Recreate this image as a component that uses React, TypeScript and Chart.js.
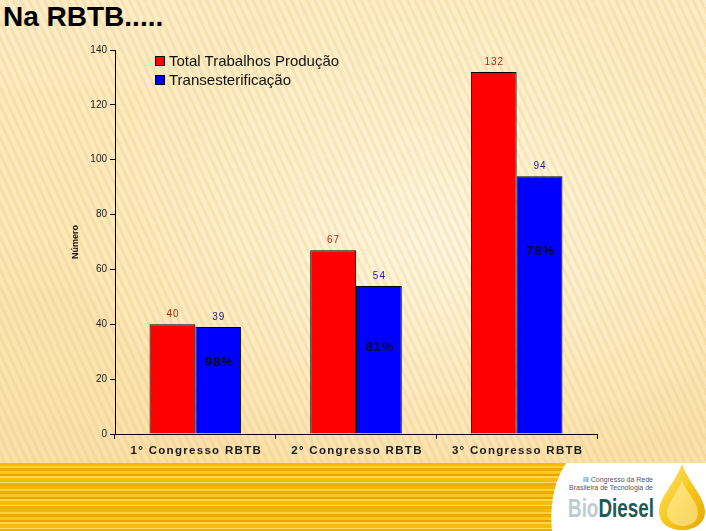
import React, { useEffect, useRef } from "react";
import { Chart, registerables } from "chart.js";

Chart.register(...registerables);

const categories = ["1° Congresso RBTB", "2° Congresso RBTB", "3° Congresso RBTB"];
const totalTrabalhos = [40, 67, 132];
const transesterificacao = [39, 54, 94];
const percentLabels = ["98%", "81%", "78%"];
const percentLabelAt = [26, 31.5, 66.5];
const seriesNames = ["Total Trabalhos Produção", "Transesterificação"];
const yTicksMax = 140;
const yStep = 20;

const FONT = "'Liberation Sans', Arial, sans-serif";

const labelPlugin = {
  id: "valueLabels",
  afterDatasetsDraw(chart: any) {
    const ctx = chart.ctx;
    ctx.save();
    const colors = ["#B8231A", "#1C1C8A"];
    chart.data.datasets.forEach((ds: any, i: number) => {
      const meta = chart.getDatasetMeta(i);
      meta.data.forEach((bar: any, j: number) => {
        ctx.font = `10px ${FONT}`;
        (ctx as any).letterSpacing = "1px";
        ctx.fillStyle = colors[i];
        ctx.textAlign = "center";
        ctx.textBaseline = "bottom";
        ctx.fillText(String(ds.data[j]), bar.x + 0.5, bar.y - 5);
      });
    });
    const blueMeta = chart.getDatasetMeta(1);
    blueMeta.data.forEach((bar: any, j: number) => {
      const y = chart.scales.y.getPixelForValue(percentLabelAt[j]);
      ctx.font = `bold 13px ${FONT}`;
      (ctx as any).letterSpacing = "1px";
      ctx.fillStyle = "#05052A";
      ctx.textAlign = "center";
      ctx.textBaseline = "middle";
      ctx.fillText(percentLabels[j], bar.x + 1, y);
    });
    ctx.restore();
  },
  afterDraw(chart: any) {
    const ctx = chart.ctx;
    const xs = chart.scales.x;
    ctx.save();
    ctx.font = `bold 11.5px ${FONT}`;
    (ctx as any).letterSpacing = "1.3px";
    ctx.fillStyle = "#1A1A1A";
    ctx.textAlign = "center";
    ctx.textBaseline = "middle";
    chart.data.labels.forEach((lab: string, i: number) => {
      ctx.fillText(lab, xs.getPixelForTick(i) + 1, xs.top + 17);
    });
    ctx.restore();
  },
};

export default function App() {
  const ref = useRef<HTMLCanvasElement | null>(null);

  useEffect(() => {
    document.body.style.margin = "0";
    if (!ref.current) return;
    const chart = new Chart(ref.current, {
      type: "bar",
      data: {
        labels: categories,
        datasets: [
          {
            label: seriesNames[0],
            data: totalTrabalhos,
            backgroundColor: "#FF0000",
            borderColor: "#000000",
            borderWidth: 1,
            categoryPercentage: 0.57,
            barPercentage: 1,
          },
          {
            label: seriesNames[1],
            data: transesterificacao,
            backgroundColor: "#0000FF",
            borderColor: "#000000",
            borderWidth: 1,
            categoryPercentage: 0.57,
            barPercentage: 1,
          },
        ],
      },
      options: {
        responsive: false,
        animation: false,
        layout: { padding: { left: 66, top: 50, right: 109, bottom: 67 } },
        plugins: {
          legend: { display: false },
          tooltip: { enabled: false },
        },
        scales: {
          x: {
            grid: {
              drawOnChartArea: false,
              drawTicks: true,
              tickLength: 5,
              color: "#000000",
              offset: true,
            },
            border: { display: true, color: "#000000" },
            ticks: { display: false },
            afterFit: (s: any) => {
              s.height = 30;
            },
          },
          y: {
            min: 0,
            max: yTicksMax,
            ticks: {
              stepSize: yStep,
              color: "#222222",
              font: { family: FONT, size: 10 },
              padding: 3,
            },
            grid: {
              drawOnChartArea: false,
              drawTicks: true,
              tickLength: 5,
              color: "#000000",
            },
            border: { display: true, color: "#000000" },
            title: {
              display: true,
              text: "Número",
              color: "#111111",
              font: { family: FONT, size: 9, weight: "bold" },
              padding: { top: 4, bottom: 4 },
            },
            afterFit: (s: any) => {
              s.width = 49;
            },
          },
        },
      },
      plugins: [labelPlugin],
    } as any);
    return () => chart.destroy();
  }, []);

  const bandStops =
    "#F4B800 0px, #F4B800 3px, #FFD23C 3px, #FFD23C 5px, #F0AA00 5px, #F0AA00 8px, #F8C81A 8px, #F8C81A 11px, #E9A200 11px, #E9A200 13px, #FFD84A 13px, #FFD84A 15px, #F5BC08 15px, #F5BC08 19px, #FFE066 19px, #FFE066 20px, #EFAE00 20px, #EFAE00 23px";

  return (
    <div
      style={{
        position: "fixed",
        left: 0,
        top: 0,
        width: 706,
        height: 531,
        overflow: "hidden",
        background:
          "repeating-linear-gradient(65deg, rgba(255,255,255,0) 0px, rgba(255,255,255,0) 4px, rgba(225,180,100,0.2) 4px, rgba(225,180,100,0.2) 7px), radial-gradient(ellipse at 62% 45%, rgba(255,250,232,0.85) 0%, rgba(255,250,232,0) 60%), linear-gradient(180deg, #FDEDC6 0%, #FCE6B4 50%, #FADFA6 100%)",
        fontFamily: FONT,
      }}
    >
      <div
        style={{
          position: "absolute",
          left: 0,
          top: 463,
          width: 706,
          height: 68,
          background: `repeating-linear-gradient(180deg, ${bandStops})`,
        }}
      />
      <svg
        width={166}
        height={76}
        style={{ position: "absolute", left: 540, top: 455 }}
      >
        <defs>
          <linearGradient id="drop" x1="0" y1="0" x2="1" y2="1">
            <stop offset="0" stopColor="#FFE77A" />
            <stop offset="0.5" stopColor="#F7C81E" />
            <stop offset="1" stopColor="#E6A800" />
          </linearGradient>
        </defs>
        <path d="M 26 8 L 166 8 L 166 76 L 12 76 Q 8 36 26 8 Z" fill="#FFFFFF" />
        <path
          d="M 142 9 C 150 30 165 42 165 57 C 165 68 155 75 142 75 C 129 75 119 68 119 57 C 119 42 134 30 142 9 Z"
          fill="url(#drop)"
        />
        <path
          d="M 142 26 C 147 38 158 47 158 58 C 158 66 151 71 143 71 C 135 71 127 66 127 58 C 127 48 137 38 142 26 Z"
          fill="#FFF3B0"
          opacity={0.55}
        />
        <text x={113} y={27} fontSize={7} textAnchor="end" fill="#555" fontFamily={FONT}>
          III Congresso da Rede
        </text>
        <text x={113} y={35} fontSize={7} textAnchor="end" fill="#555" fontFamily={FONT}>
          Brasileira de Tecnologia de
        </text>
        <text
          x={28}
          y={62}
          fontSize={26}
          fontWeight="bold"
          fontFamily="'Liberation Sans Narrow', 'Liberation Sans', Arial, sans-serif"
          textLength={86}
          lengthAdjust="spacingAndGlyphs"
        >
          <tspan fill="#BACCD0">Bio</tspan>
          <tspan fill="#1E5A55">Diesel</tspan>
        </text>
      </svg>
      <div
        style={{
          position: "absolute",
          left: 3,
          top: 0,
          fontSize: 28,
          fontWeight: "bold",
          color: "#000",
          lineHeight: "34px",
        }}
      >
        Na RBTB.....
      </div>
      <canvas
        ref={ref}
        width={706}
        height={531}
        style={{ position: "absolute", left: 0, top: 0 }}
      />
      <div style={{ position: "absolute", left: 155, top: 51, fontSize: 15, color: "#111", lineHeight: "18px" }}>
        <div style={{ display: "flex", alignItems: "center", height: 19 }}>
          <span style={{ width: 8, height: 8, background: "#FF0000", border: "1px solid #000", marginRight: 4 }} />
          {seriesNames[0]}
        </div>
        <div style={{ display: "flex", alignItems: "center", height: 19 }}>
          <span style={{ width: 8, height: 8, background: "#0000FF", border: "1px solid #000", marginRight: 4 }} />
          {seriesNames[1]}
        </div>
      </div>
    </div>
  );
}
